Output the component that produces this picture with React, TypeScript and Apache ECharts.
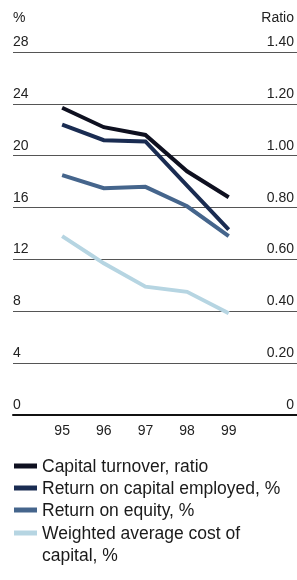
import React, { useEffect, useRef } from "react";
import * as echarts from "echarts";

const years = [95, 96, 97, 98, 99];
const capitalTurnover = [1.185, 1.11, 1.08, 0.94, 0.84];
const roce = [22.4, 21.2, 21.1, 17.7, 14.3];
const roe = [18.5, 17.5, 17.6, 16.1, 13.8];
const wacc = [13.8, 11.7, 9.9, 9.5, 7.85];

const seriesNames = [
  "Capital turnover, ratio",
  "Return on capital employed, %",
  "Return on equity, %",
  "Weighted average cost of\ncapital, %",
];
const seriesColors = ["#0e1020", "#1a2c52", "#45658c", "#b6d5e2"];
const leftTicks = { min: 0, max: 28, interval: 4 };
const rightTicks = { min: 0, max: 1.4, interval: 0.2 };

const FONT = "'Liberation Sans', Arial, sans-serif";

export default function App() {
  const ref = useRef<HTMLDivElement>(null);
  useEffect(() => {
    if (!ref.current) return;
    const chart = echarts.init(ref.current, undefined, { renderer: "svg" });
    const pairs = (arr: number[]) => years.map((y, i) => [y, arr[i]]);
    const seriesData = [capitalTurnover, roce, roe, wacc];
    const legendY = [466, 488, 510, 533];
    const legendGraphics: any[] = [];
    seriesNames.forEach((name, i) => {
      legendGraphics.push({
        type: "rect",
        shape: { x: 14, y: legendY[i] - 2.5, width: 23, height: 5 },
        style: { fill: seriesColors[i] },
      });
      legendGraphics.push({
        type: "text",
        x: 42,
        y: legendY[i] - 11,
        style: {
          text: name,
          fill: "#1a1a1a",
          fontSize: 17.5,
          fontFamily: FONT,
          lineHeight: 22,
          verticalAlign: "top",
        },
      });
    });
    chart.setOption({
      animation: false,
      textStyle: { fontFamily: FONT },
      grid: { left: 13, right: 0, top: 52, bottom: 165, containLabel: false },
      xAxis: {
        type: "value",
        position: "bottom",
        min: 93.82,
        max: 100.64,
        splitLine: { show: false },
        axisTick: { show: false },
        axisLine: { show: true, onZero: false, lineStyle: { color: "#111", width: 2 } },
        axisLabel: {
          customValues: years,
          formatter: (v: number) => String(v),
          color: "#222",
          fontSize: 14,
          margin: 8,
          fontFamily: FONT,
        },
        z: 5,
      },
      yAxis: [
        {
          type: "value",
          ...leftTicks,
          position: "left",
          name: "%",
          nameLocation: "end",
          nameGap: 28,
          nameTextStyle: { align: "left", verticalAlign: "bottom", color: "#222", fontSize: 14, fontFamily: FONT },
          axisLine: { show: false },
          axisTick: { show: false },
          splitLine: { show: true, showMinLine: true, showMaxLine: true, lineStyle: { color: "#555", width: 1 } },
          axisLabel: {
            inside: true,
            margin: 0,
            verticalAlign: "bottom",
            padding: [0, 0, 4, 0],
            color: "#222",
            fontSize: 14,
            fontFamily: FONT,
          },
        },
        {
          type: "value",
          ...rightTicks,
          position: "right",
          name: "Ratio",
          nameLocation: "end",
          nameGap: 28,
          nameTextStyle: { align: "right", verticalAlign: "bottom", color: "#222", fontSize: 14, fontFamily: FONT, padding: [0, 3, 0, 0] },
          axisLine: { show: false },
          axisTick: { show: false },
          splitLine: { show: false },
          axisLabel: {
            inside: true,
            margin: 3,
            align: "right",
            verticalAlign: "bottom",
            padding: [0, 0, 4, 0],
            color: "#222",
            fontSize: 14,
            fontFamily: FONT,
            formatter: (v: number) => (v === 0 ? "0" : v.toFixed(2)),
          },
        },
      ],
      series: seriesData.map((arr, i) => ({
        name: seriesNames[i],
        type: "line",
        yAxisIndex: i === 0 ? 1 : 0,
        data: pairs(arr),
        symbol: "none",
        lineStyle: { color: seriesColors[i], width: 4, cap: "butt", join: "miter" },
        z: 10 - i,
      })),
      graphic: legendGraphics,
    });
    return () => chart.dispose();
  }, []);
  return (
    <div
      ref={ref}
      style={{ position: "fixed", left: 0, top: 0, width: 297, height: 580 }}
    />
  );
}
